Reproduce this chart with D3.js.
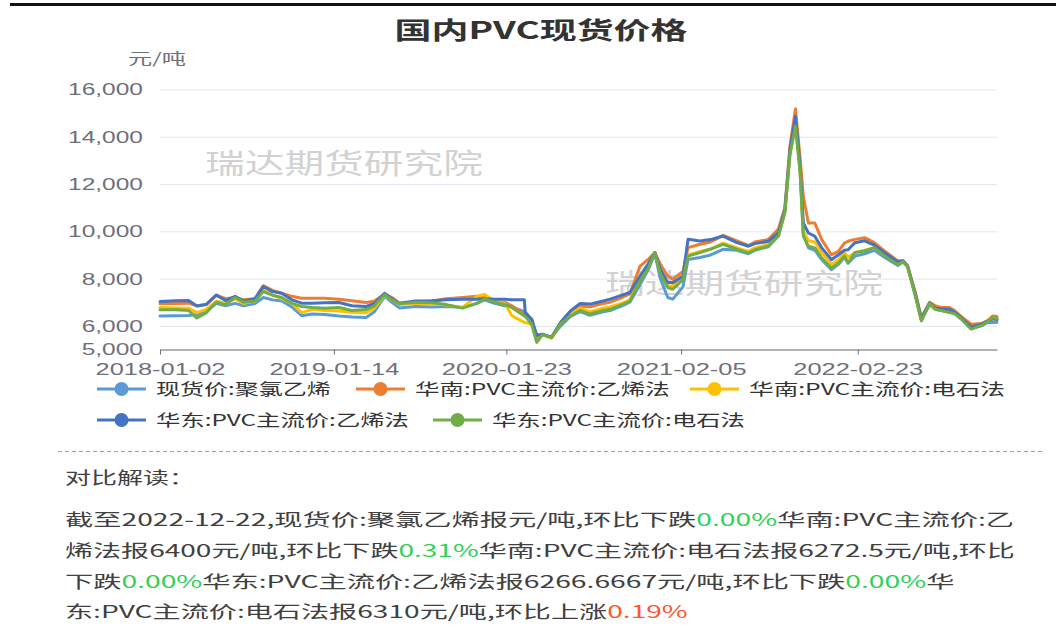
<!DOCTYPE html>
<html>
<head>
    <meta charset="utf-8" />
    <title>国内PVC现货价格</title>
    <script type="text/javascript" src="https://cdn.jsdelivr.net/npm/d3@7"></script>
    <style>
        body { margin: 0; background: #fff; }
        svg { display: block; font-family: "Microsoft YaHei", "Noto Sans CJK SC", sans-serif; }
    </style>
</head>
<body>
    <script type="text/javascript">

        //Data
        var dates = [
            "2018-01-02", "2018-02-05", "2018-03-05", "2018-03-23", "2018-04-12", "2018-05-04", "2018-05-24", "2018-06-14", "2018-07-02", "2018-07-27",
            "2018-08-14", "2018-09-03", "2018-09-23", "2018-10-15", "2018-11-05", "2018-11-28", "2018-12-25", "2019-01-25", "2019-02-22", "2019-03-25",
            "2019-04-12", "2019-05-04", "2019-05-20", "2019-06-05", "2019-07-10", "2019-08-15", "2019-09-15", "2019-10-20", "2019-11-20", "2019-12-07",
            "2019-12-28", "2020-01-20", "2020-02-04", "2020-03-02", "2020-03-04", "2020-03-18", "2020-03-29", "2020-04-10", "2020-04-30", "2020-05-20",
            "2020-06-10", "2020-07-01", "2020-07-22", "2020-08-20", "2020-09-04", "2020-09-30", "2020-10-17", "2020-11-08", "2020-11-25", "2020-12-10",
            "2020-12-22", "2021-01-07", "2021-01-18", "2021-02-09", "2021-02-20", "2021-03-18", "2021-04-10", "2021-05-07", "2021-06-06", "2021-07-01",
            "2021-07-15", "2021-08-13", "2021-09-04", "2021-09-18", "2021-09-29", "2021-10-11", "2021-10-21", "2021-10-28", "2021-11-08", "2021-11-22",
            "2021-12-07", "2021-12-28", "2022-01-12", "2022-01-25", "2022-02-02", "2022-02-17", "2022-03-10", "2022-03-31", "2022-04-22", "2022-05-21",
            "2022-06-01", "2022-06-11", "2022-06-28", "2022-07-11", "2022-07-29", "2022-08-10", "2022-08-23", "2022-09-10", "2022-09-21", "2022-10-05",
            "2022-10-27", "2022-11-18", "2022-12-02", "2022-12-13", "2022-12-22"];

        //现货价:聚氯乙烯
        var spotPVC = [
            6420, 6430, 6440, 6480, 6600, 6950, 6850, 6950, 6850, 6950,
            7200, 7100, 7050, 6800, 6430, 6500, 6480, 6420, 6380, 6350,
            6600, 7250, 7000, 6760, 6820, 6800, 6820, 6780, 6950, 7100,
            6950, 6850, 6800, 6600, 6580, 6250, 5500, 5650, 5500, 6000,
            6400, 6600, 6450, 6600, 6650, 6850, 7000, 7750, 8350, 9050,
            8000, 7200, 7130, 7650, 8810, 8890, 9000, 9240, 9200, 9050,
            9200, 9350, 9800, 10800, 13300, 14700, 12600, 9900, 9300, 9200,
            8800, 8380, 8600, 8900, 8650, 8950, 9050, 9200, 8900, 8550,
            8700, 8500, 7300, 6250, 6900, 6700, 6650, 6600, 6520, 6300,
            5880, 6000, 6150, 6140, 6150];

        //华南:PVC主流价:乙烯法
        var southEthylene = [
            6950, 6950, 6960, 6850, 6900, 7300, 7150, 7200, 7100, 7150,
            7700, 7500, 7380, 7250, 7170, 7170, 7170, 7130, 7060, 6990,
            7050, 7340, 7200, 6960, 7000, 7050, 7150, 7200, 7250, 7200,
            7050, 6990, 6850, 6500, 6480, 6280, 5450, 5620, 5520, 6150,
            6600, 6850, 6800, 6950, 7000, 7200, 7350, 8530, 8800, 9100,
            8600, 8110, 7970, 8300, 9310, 9450, 9550, 9830, 9590, 9400,
            9550, 9650, 10100, 11000, 13600, 15180, 13100, 11480, 10350, 10350,
            9650, 9010, 9150, 9500, 9580, 9660, 9730, 9520, 9170, 8750,
            8750, 8540, 7400, 6350, 7000, 6850, 6780, 6780, 6650, 6400,
            6070, 6100, 6220, 6420, 6400];

        //华南:PVC主流价:电石法
        var southCarbide = [
            6780, 6760, 6750, 6560, 6700, 7050, 6950, 7150, 6950, 7050,
            7500, 7300, 7150, 6950, 6560, 6700, 6650, 6630, 6580, 6560,
            6750, 7300, 7100, 6900, 6950, 6950, 6880, 6780, 7250, 7330,
            7050, 6950, 6430, 6150, 6140, 6070, 5330, 5620, 5480, 6100,
            6500, 6750, 6600, 6750, 6800, 6950, 7100, 8000, 8500, 9100,
            8300, 7700, 7690, 8050, 9000, 9150, 9250, 9500, 9300, 9150,
            9300, 9450, 9900, 10850, 13300, 14500, 12600, 10000, 9600, 9550,
            9100, 8600, 8800, 9100, 8900, 9100, 9200, 9300, 9000, 8650,
            8700, 8500, 7300, 6250, 6950, 6700, 6680, 6620, 6550, 6330,
            5900, 6050, 6200, 6300, 6272.5];

        //华东:PVC主流价:乙烯法
        var eastEthylene = [
            7030, 7060, 7070, 6840, 6900, 7300, 7070, 7250, 7050, 7150,
            7660, 7450, 7380, 7100, 6960, 6960, 6980, 6990, 6850, 6820,
            6950, 7380, 7150, 6960, 7050, 7060, 7100, 7130, 7130, 7150,
            7130, 7130, 7100, 7100, 6560, 6280, 5600, 5650, 5520, 6150,
            6630, 6950, 6920, 7050, 7130, 7300, 7410, 8110, 8600, 9100,
            8400, 7830, 7830, 8100, 9660, 9590, 9650, 9800, 9520, 9370,
            9480, 9580, 9930, 10920, 13450, 14870, 12750, 10350, 9930, 9790,
            9300, 8800, 9010, 9200, 9220, 9520, 9600, 9420, 9100, 8700,
            8750, 8540, 7350, 6300, 6980, 6750, 6720, 6700, 6580, 6350,
            5950, 6070, 6210, 6300, 6266.6667];

        //华东:PVC主流价:电石法
        var eastCarbide = [
            6680, 6680, 6650, 6330, 6550, 7000, 6900, 7200, 7000, 7050,
            7450, 7300, 7200, 6950, 6820, 6780, 6750, 6780, 6650, 6690,
            6850, 7330, 7100, 6930, 7000, 6980, 6900, 6750, 6950, 7150,
            7000, 6900, 6780, 6420, 6400, 6070, 5300, 5630, 5500, 6100,
            6420, 6650, 6500, 6650, 6700, 6900, 7050, 7900, 8400, 9100,
            8200, 7620, 7550, 7950, 8950, 9100, 9250, 9450, 9240, 9080,
            9220, 9370, 9800, 10800, 13250, 14440, 12500, 9800, 9370, 9300,
            8870, 8450, 8660, 8950, 8660, 9100, 9170, 9310, 8960, 8600,
            8720, 8520, 7250, 6210, 6950, 6700, 6650, 6560, 6520, 6300,
            5860, 6020, 6200, 6350, 6310];

        var seriesNames = ["现货价:聚氯乙烯", "华南:PVC主流价:乙烯法", "华南:PVC主流价:电石法",
                           "华东:PVC主流价:乙烯法", "华东:PVC主流价:电石法"];
        var seriesValues = [spotPVC, southEthylene, southCarbide, eastEthylene, eastCarbide];
        var colors = ["#5b9bd5", "#ed7d31", "#ffc000", "#4472c4", "#70ad47"];

        var yTicks = [5000, 6000, 8000, 10000, 12000, 14000, 16000];
        var xTickLabels = ["2018-01-02", "2019-01-14", "2020-01-23", "2021-02-05", "2022-02-23"];

        var textLines = [
            [["截至2022-12-22,现货价:聚氯乙烯报元/吨,环比下跌", ""], ["0.00%", "down"], ["华南:PVC主流价:乙", ""]],
            [["烯法报6400元/吨,环比下跌", ""], ["0.31%", "down"], ["华南:PVC主流价:电石法报6272.5元/吨,环比", ""]],
            [["下跌", ""], ["0.00%", "down"], ["华东:PVC主流价:乙烯法报6266.6667元/吨,环比下跌", ""], ["0.00%", "down"], ["华", ""]],
            [["东:PVC主流价:电石法报6310元/吨,环比上涨", ""], ["0.19%", "up"]]
        ];

        //Width and height
        var w = 1056;
        var h = 637;
        var plotLeft = 160, plotRight = 997, plotTop = 89.5, plotBottom = 349.5;

        var parseDate = d3.timeParse("%Y-%m-%d");

        var xScale = d3.scaleTime()
            .domain([parseDate(dates[0]), parseDate(dates[dates.length - 1])])
            .range([plotLeft, plotRight]);

        var yScale = d3.scaleLinear()
            .domain([5000, 16000])
            .range([plotBottom, plotTop]);

        var svg = d3.select("body")
                    .append("svg")
                    .attr("width", w)
                    .attr("height", h);

        svg.append("rect").attr("width", w).attr("height", h).attr("fill", "#fff");

        //black bar at the top
        svg.append("rect").attr("x", 10).attr("y", 3).attr("width", w - 10).attr("height", 3).attr("fill", "#111");

        //squeeze/stretch a text to a given width (the picture is stretched sideways)
        var fit = function (sel, width) {
            var tw = sel.node().getComputedTextLength();
            var x = +sel.attr("x") || 0, y = +sel.attr("y") || 0;
            sel.attr("x", 0).attr("y", 0)
               .attr("transform", "translate(" + x + "," + y + ") scale(" + (width / tw) + ",1)");
            return sel;
        };

        //Title
        fit(svg.append("text")
            .attr("x", 541).attr("y", 39)
            .attr("text-anchor", "middle")
            .attr("font-size", 24).attr("font-weight", "bold")
            .attr("fill", "#333")
            .text("国内PVC现货价格"), 293);

        //Unit
        fit(svg.append("text")
            .attr("x", 128).attr("y", 64)
            .attr("font-size", 15)
            .attr("fill", "#6e7079")
            .text("元/吨"), 58);

        //Y axis with grid
        var yAxis = d3.axisLeft(yScale)
            .tickValues(yTicks)
            .tickSize(-(plotRight - plotLeft))
            .tickFormat(d3.format(","));

        var gy = svg.append("g").attr("transform", "translate(" + plotLeft + ",0)").call(yAxis);
        gy.select(".domain").remove();
        gy.selectAll(".tick line").attr("stroke", "#e0e6f1");
        var yText = gy.selectAll(".tick text")
            .attr("font-size", 17)
            .attr("font-family", null)
            .attr("fill", "#6e7079");
        var ky = 75 / yText.filter(function (d) { return d == 16000; }).node().getComputedTextLength();
        yText.attr("x", 0).attr("transform", "translate(-17,0) scale(" + ky + ",1)");

        //Watermarks
        fit(svg.append("text")
            .attr("x", 205).attr("y", 174)
            .attr("font-size", 28)
            .attr("fill", "#d2d2d2")
            .text("瑞达期货研究院"), 278);
        fit(svg.append("text")
            .attr("x", 605).attr("y", 294)
            .attr("font-size", 28)
            .attr("fill", "#d2d2d2")
            .text("瑞达期货研究院"), 278);

        //X axis
        var xAxis = d3.axisBottom(xScale)
            .tickValues(xTickLabels.map(parseDate))
            .tickFormat(d3.timeFormat("%Y-%m-%d"))
            .tickSize(5)
            .tickSizeOuter(0);

        var gx = svg.append("g").attr("transform", "translate(0," + plotBottom + ")").call(xAxis);
        gx.select(".domain").attr("stroke", "#6e7079");
        gx.selectAll(".tick line").attr("stroke", "#6e7079");
        var xText = gx.selectAll(".tick text")
            .attr("font-size", 17)
            .attr("font-family", null)
            .attr("fill", "#6e7079");
        var kx = 130 / xText.node().getComputedTextLength();
        xText.attr("y", 0).attr("dy", 0).attr("transform", "translate(0,25) scale(" + kx + ",1)");

        //Lines
        var line = d3.line()
            .x(function (d, i) { return xScale(parseDate(dates[i])); })
            .y(function (d) { return yScale(d); });

        svg.selectAll("path.series")
           .data(seriesValues)
           .enter()
           .append("path")
           .attr("class", "series")
           .attr("d", function (d) { return line(d); })
           .attr("fill", "none")
           .attr("stroke", function (d, i) { return colors[i]; })
           .attr("stroke-width", 3)
           .attr("stroke-linejoin", "round")
           .attr("stroke-linecap", "round");

        //Legend
        var legendPos = [
            { x: 97, y: 389, tw: 175 },
            { x: 356, y: 389, tw: 255 },
            { x: 690, y: 389, tw: 256 },
            { x: 97, y: 420, tw: 253 },
            { x: 433, y: 420, tw: 253 }
        ];

        var legend = svg.selectAll("g.legend")
            .data(seriesNames)
            .enter()
            .append("g")
            .attr("class", "legend")
            .attr("transform", function (d, i) { return "translate(" + legendPos[i].x + "," + legendPos[i].y + ")"; });

        legend.append("line")
            .attr("x1", 0).attr("x2", 49)
            .attr("stroke", function (d, i) { return colors[i]; })
            .attr("stroke-width", 3);

        legend.append("circle")
            .attr("cx", 24.5)
            .attr("r", 7)
            .attr("fill", function (d, i) { return colors[i]; });

        legend.append("text")
            .attr("x", 59).attr("y", 6)
            .attr("font-size", 16)
            .attr("fill", "#333")
            .text(function (d) { return d; })
            .each(function (d, i) { fit(d3.select(this), legendPos[i].tw); });

        //Separator
        svg.append("line")
            .attr("x1", 58).attr("x2", 1045)
            .attr("y1", 451.5).attr("y2", 451.5)
            .attr("stroke", "#a0a0a0")
            .attr("stroke-dasharray", "4,3");

        //Reading
        fit(svg.append("text")
            .attr("x", 65).attr("y", 484)
            .attr("font-size", 17)
            .attr("fill", "#404040")
            .text("对比解读："), 130);

        var lineWidths = [950, 950, 890, 623];
        var lineBase = [526, 557, 588, 618];

        textLines.forEach(function (parts, li) {
            var t = svg.append("text")
                .attr("x", 65).attr("y", lineBase[li])
                .attr("font-size", 17)
                .attr("fill", "#404040");
            t.selectAll("tspan")
                .data(parts)
                .enter()
                .append("tspan")
                .attr("fill", function (p) { return p[1] == "down" ? "#2fd158" : (p[1] == "up" ? "#ff5630" : "#404040"); })
                .text(function (p) { return p[0]; });
            fit(t, lineWidths[li]);
        });

    </script>
</body>
</html>
